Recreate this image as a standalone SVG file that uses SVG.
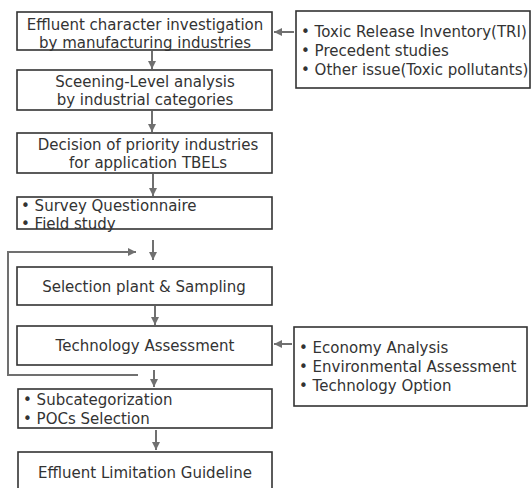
<svg xmlns="http://www.w3.org/2000/svg" width="532" height="488" viewBox="0 0 532 488">
<style>
.box{fill:#fff;stroke:#333;stroke-width:1.6}
.t{font-family:"DejaVu Sans","Noto Sans",sans-serif;font-size:15px;fill:#333}
.c{text-anchor:middle}
.ln{stroke:#707070;stroke-width:2;fill:none}
</style>
<defs>
<marker id="ah" markerWidth="9" markerHeight="9" refX="8" refY="4.5" orient="auto" markerUnits="userSpaceOnUse">
<path d="M0,0.5 L8,4.5 L0,8.5 Z" fill="#707070"/>
</marker>
</defs>
<rect width="532" height="488" fill="#fff"/>
<g id="n1"><rect class="box" x="17" y="12" width="255" height="38"/>
<text class="t c" x="145" y="30">Effluent character investigation</text>
<text class="t c" x="145" y="47.5">by manufacturing industries</text></g>
<g id="r1"><rect class="box" x="296" y="11" width="234" height="77"/>
<text class="t" x="301" y="37">• Toxic Release Inventory(TRI)</text>
<text class="t" x="301" y="56">• Precedent studies</text>
<text class="t" x="301" y="75">• Other issue(Toxic pollutants)</text></g>
<g id="n2"><rect class="box" x="17" y="70" width="255" height="40"/>
<text class="t c" x="145" y="87">Sceening-Level analysis</text>
<text class="t c" x="145" y="104.5">by industrial categories</text></g>
<g id="n3"><rect class="box" x="17" y="133" width="255" height="40"/>
<text class="t c" x="148" y="150">Decision of priority industries</text>
<text class="t c" x="148" y="167.5">for application TBELs</text></g>
<g id="n4"><rect class="box" x="17" y="197" width="255" height="32"/>
<text class="t" x="21" y="211">• Survey Questionnaire</text>
<text class="t" x="21" y="228.5">• Field study</text></g>
<g id="n5"><rect class="box" x="17" y="267" width="255" height="38"/>
<text class="t c" x="144" y="292">Selection plant &amp; Sampling</text></g>
<g id="n6"><rect class="box" x="17" y="326" width="255" height="39"/>
<text class="t c" x="145" y="351">Technology Assessment</text></g>
<g id="r2"><rect class="box" x="294" y="327" width="233" height="79"/>
<text class="t" x="299" y="353">• Economy Analysis</text>
<text class="t" x="299" y="372">• Environmental Assessment</text>
<text class="t" x="299" y="391">• Technology Option</text></g>
<g id="n7"><rect class="box" x="18" y="389" width="254" height="39"/>
<text class="t" x="23" y="405">• Subcategorization</text>
<text class="t" x="23" y="424">• POCs Selection</text></g>
<g id="n8"><rect class="box" x="18" y="452" width="254" height="50"/>
<text class="t c" x="145" y="478">Effluent Limitation Guideline</text></g>
<g id="connectors">
<line class="ln" x1="152" y1="51" x2="152" y2="69" marker-end="url(#ah)"/>
<line class="ln" x1="152" y1="111" x2="152" y2="132" marker-end="url(#ah)"/>
<line class="ln" x1="153" y1="174" x2="153" y2="196" marker-end="url(#ah)"/>
<line class="ln" x1="153" y1="240" x2="153" y2="260" marker-end="url(#ah)"/>
<line class="ln" x1="155" y1="306" x2="155" y2="325" marker-end="url(#ah)"/>
<line class="ln" x1="154" y1="370" x2="154" y2="387" marker-end="url(#ah)"/>
<line class="ln" x1="156" y1="430" x2="156" y2="450" marker-end="url(#ah)"/>
<line class="ln" x1="294" y1="32" x2="274" y2="32" marker-end="url(#ah)"/>
<line class="ln" x1="292" y1="344" x2="274" y2="344" marker-end="url(#ah)"/>
<polyline class="ln" points="138,375 8,375 8,252 136,252" marker-end="url(#ah)"/>
</g>
</svg>
